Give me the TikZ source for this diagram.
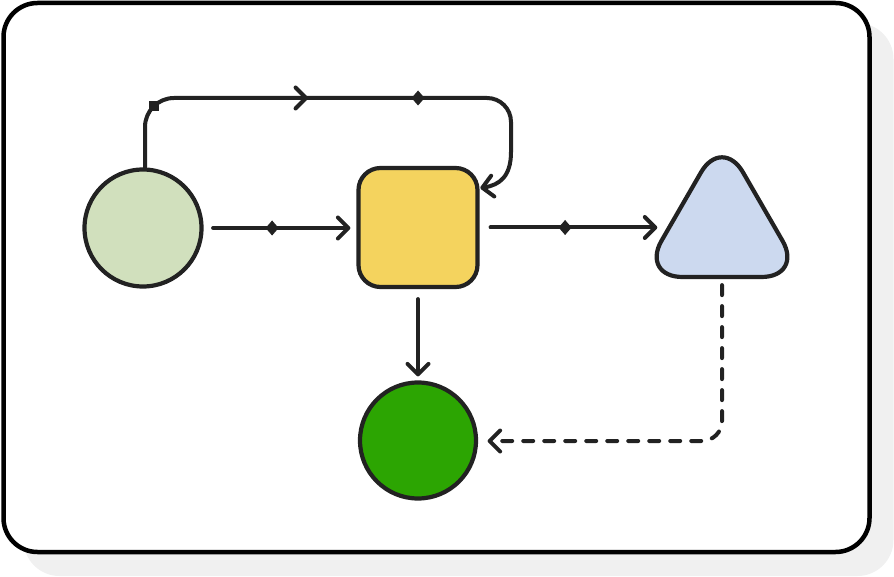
\documentclass[tikz,border=0pt]{standalone}
\usetikzlibrary{arrows.meta,calc,shapes.geometric,decorations.markings}
\definecolor{ink}{HTML}{222222}
\definecolor{shadowgray}{HTML}{F0F0F0}
\definecolor{sagefill}{HTML}{D1E0BD}
\definecolor{yellowfill}{HTML}{F4D35E}
\definecolor{bluefill}{HTML}{CCD9EF}
\definecolor{greenfill}{HTML}{2CA502}
\tikzset{
  shapebox/.style={draw=ink, line width=4.2pt, inner sep=0pt},
  barb/.style={-{Straight Barb[length=10.5pt,width=21pt,round]}},
  conn/.style={draw=ink, line width=4pt, line cap=round, line join=round, barb},
  dashconn/.style={conn, dash pattern=on 10pt off 11pt},
  mid diamond/.style={postaction={decorate,decoration={markings,
      mark=at position #1 with {\fill[ink] (-6.5,0)--(0,7.5)--(6.5,0)--(0,-7.5)--cycle;}}}},
  top marks/.style={postaction={decorate,decoration={markings,
      mark=at position 63.4pt with {\pgftransformresetnontranslations\fill[ink] (-5,-5) rectangle (5,5);},
      mark=at position 220pt with {\arrow[ink,line width=4pt]{Straight Barb[length=10.5pt,width=21pt,round]}},
      mark=at position 330pt with {\fill[ink] (-6.5,0)--(0,7.5)--(6.5,0)--(0,-7.5)--cycle;}}}}
}
\begin{document}
\begin{tikzpicture}[x=1pt,y=-1pt]
\useasboundingbox (0,0) rectangle (894,577);
% shadow and frame
\fill[shadowgray, rounded corners=36pt] (23.5,23) rectangle (893.5,576);
\draw[black, line width=4.5pt, fill=white, rounded corners=34pt] (3.5,3) rectangle (869.5,552);
% nodes
\node[shapebox, circle, fill=sagefill, minimum size=117pt] (gc) at (143,228) {};
\node[shapebox, rectangle, rounded corners=22pt, fill=yellowfill, minimum size=119pt] (sq) at (418,227.5) {};
\node[shapebox, regular polygon, regular polygon sides=3, rounded corners=42pt, fill=bluefill, minimum size=188pt] (tri) at (722,230) {};
\node[shapebox, circle, fill=greenfill, minimum size=116pt] (dc) at (418,440.5) {};
% connectors
\draw[conn, mid diamond=59pt] ($(gc.east)+(9.5,0)$) -- ($(gc.east -| sq.west)+(-6,0)$);
\draw[conn, mid diamond=74.5pt] ($(sq.east)+(11,0)$) -- ($(sq.east -| tri.west)+(-8,0)$);
\draw[conn] ($(sq.south)+(0,10)$) -- ($(dc.north)+(0,-4)$);
\draw[dashconn] ($(tri.south)+(0,6)$) -- (722,421) .. controls (722,432) and (713,441) .. (702,441) -- ($(dc.east)+(9.5,0.5)$);
\draw[conn, top marks] ($(gc.north)+(2,0)$) -- (145,127) .. controls (145,111) and (158,98) .. (174,98) -- (487,98) .. controls (500.3,98) and (511,108.7) .. (511,122) -- (511,152) .. controls (511,176) and (500,185) .. ($(sq.east)+(0.75,-39.5)$);
\end{tikzpicture}
\end{document}
